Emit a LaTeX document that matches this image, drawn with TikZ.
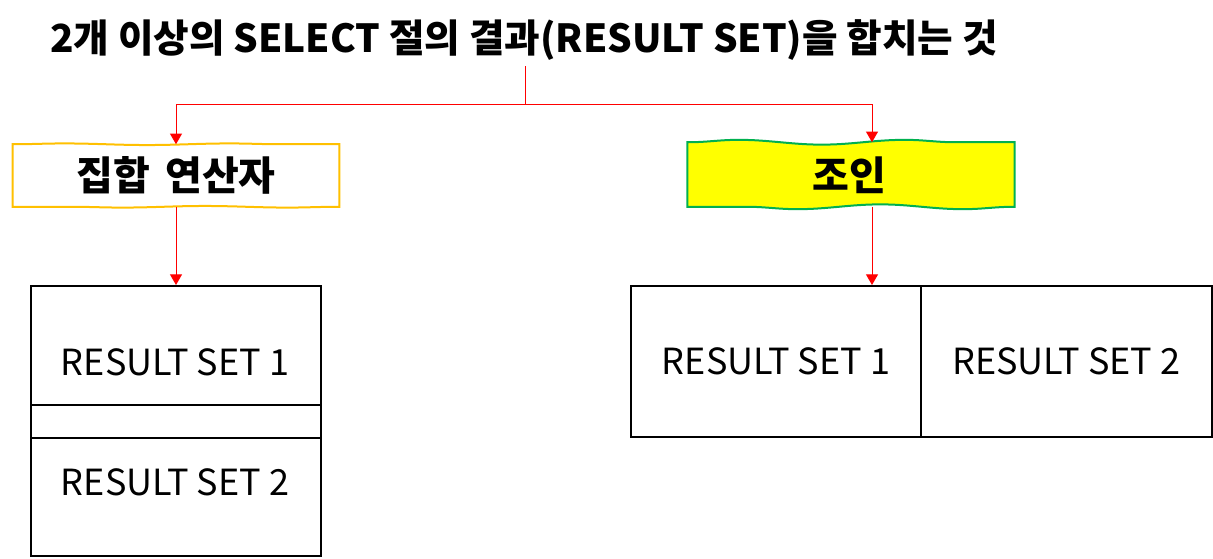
\documentclass[tikz,border=0pt]{standalone}
\usepackage{fontspec}
\setmainfont{Noto Sans CJK KR}
\usetikzlibrary{arrows.meta,decorations.pathmorphing}
\definecolor{ared}{RGB}{255,0,0}
\definecolor{borange}{RGB}{255,192,0}
\definecolor{bgreen}{RGB}{0,176,80}
\definecolor{byellow}{RGB}{255,255,0}
\begin{document}
\begin{tikzpicture}[x=0.75pt,y=-0.75pt,
  conn/.style={draw=ared,line width=0.75pt},
  arr/.style={conn,-{Triangle[width=9pt,length=8pt]}},
  cell/.style={draw=black,line width=1.5pt,inner sep=0pt},
  rstext/.style={font=\fontsize{27}{32}\selectfont,inner sep=0pt},
  lbl/.style={font=\fontsize{30}{34}\bfseries,inner sep=0pt},
  wave/.style={decoration={snake,amplitude=#1,segment length=124pt}}]
\useasboundingbox (0,0) rectangle (1213,558);

% title
\node[font=\fontsize{29}{34}\bfseries,inner sep=0pt] (title) at (524,40) {2개 이상의 SELECT 절의 결과(RESULT SET)을 합치는 것};
\coordinate (ts) at (525,66);
\coordinate (jn) at (525,104);
\coordinate (ja) at (872,0);

% boxes
\node[minimum width=244.5pt,minimum height=46.5pt,inner sep=0pt] (setop) at (176,175.5) {};
\node[minimum width=245pt,minimum height=48pt,inner sep=0pt] (join) at (851,174.5) {};
\draw[draw=borange,line width=1.5pt,fill=white,wave=0.6pt]
  decorate{(setop.north west) -- (setop.north east)} -- (setop.south east)
  decorate{-- (setop.south west)} -- cycle;
\draw[draw=bgreen,line width=1.5pt,fill=byellow,wave=1.8pt]
  decorate{(join.north west) -- (join.north east)} -- (join.south east)
  decorate{-- (join.south west)} -- cycle;
\node[lbl] (setoptext) at (176,175.5) {집합\hspace{0.38em}연산자};
\node[lbl] (jointext) at (849,175.5) {조인};

% connectors from title
\draw[conn] (ts) -- (jn);
\draw[arr] (jn) -| (setop.north);
\draw[arr] (jn) -| (join.north -| ja);

% left table
\node[cell,minimum width=217.5pt,minimum height=89.25pt] (l1) at (176,345.5) {};
\node[cell,minimum width=217.5pt,minimum height=24.75pt] (lg) at (176,421.5) {};
\node[cell,minimum width=217.5pt,minimum height=88.5pt] (l2) at (176,497) {};
\node[rstext] (l1t) at (175,362) {RESULT SET 1};
\node[rstext] (l2t) at (175,482) {RESULT SET 2};

% right table
\node[cell,minimum width=217.5pt,minimum height=113.25pt] (r1) at (776,361.5) {};
\node[cell,minimum width=218.25pt,minimum height=113.25pt] (r2) at (1066.5,361.5) {};
\node[rstext] (r1t) at (r1.center) {RESULT SET 1};
\node[rstext] (r2t) at (r2.center) {RESULT SET 2};

% connectors down
\draw[arr] (setop.south) -- (l1.north);
\draw[arr] (join.south -| ja) -- (l1.north -| ja);
\end{tikzpicture}
\end{document}
